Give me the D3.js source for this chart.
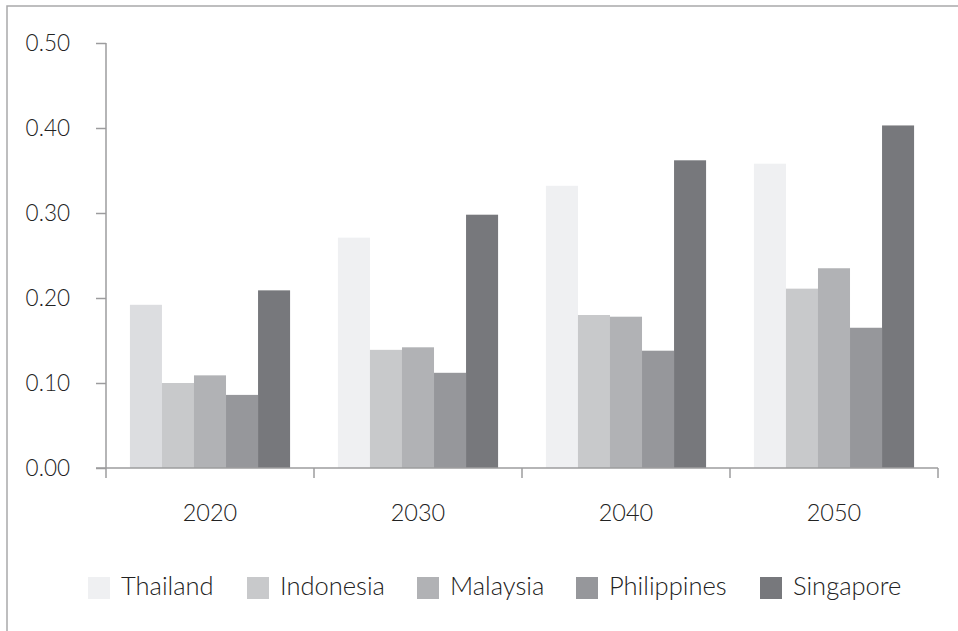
<!DOCTYPE html>
<html>
<head>
<meta charset="utf-8">
<script src="https://cdn.jsdelivr.net/npm/d3@7"></script>
<style>
  body { margin: 0; background: #fff; }
  text { font-family: Lato, "Open Sans", sans-serif; font-weight: 300; fill: #222; }
</style>
</head>
<body>
<script>
// chart data
var years = ["2020", "2030", "2040", "2050"];
var countries = ["Thailand", "Indonesia", "Malaysia", "Philippines", "Singapore"];
var thailand = [0.192, 0.271, 0.332, 0.358];
var indonesia = [0.100, 0.139, 0.180, 0.211];
var malaysia = [0.109, 0.142, 0.178, 0.235];
var philippines = [0.086, 0.112, 0.138, 0.165];
var singapore = [0.209, 0.298, 0.362, 0.403];
var yTicks = [0, 0.1, 0.2, 0.3, 0.4, 0.5];

var colours = ["#eff0f2", "#c8c9cb", "#b1b2b5", "#96979b", "#77787c"];

// svg variables
var width = 958;
var height = 631;
var left = 106;
var right = 938;
var top_ = 43;
var bottom = 468;

var series = [thailand, indonesia, malaysia, philippines, singapore];

var svg = d3.select("body")
  .append("svg")
  .attr("width", width)
  .attr("height", height);

// outer frame (top and left only)
svg.append("path")
  .attr("d", "M7,631V6H958")
  .attr("fill", "none")
  .attr("stroke", "#a9a9ab")
  .attr("stroke-width", 1.5);

// scales
var x0 = d3.scaleBand()
  .domain(years)
  .range([left, right])
  .paddingInner(0.23)
  .paddingOuter(0.115);

var x1 = d3.scaleBand()
  .domain(countries)
  .range([0, x0.bandwidth()]);

var yScale = d3.scaleLinear()
  .domain([0, 0.5])
  .range([bottom, top_]);

// bars
var groups = svg.selectAll(".year")
  .data(years)
  .enter()
  .append("g")
  .attr("class", "year")
  .attr("transform", function(d) { return "translate(" + x0(d) + ",0)"; });

groups.selectAll("rect")
  .data(function(d, i) {
    return countries.map(function(c, j) {
      return {country: c, value: series[j][i], year: d};
    });
  })
  .enter()
  .append("rect")
  .attr("x", function(d) { return x1(d.country); })
  .attr("width", x1.bandwidth())
  .attr("y", function(d) { return yScale(d.value); })
  .attr("height", function(d) { return bottom - yScale(d.value); })
  .attr("fill", function(d, j) {
    // the first Thailand bar is a little darker in the original
    if (d.year === "2020" && j === 0) return "#dcdde0";
    return colours[j];
  });

// y axis
svg.append("g")
  .attr("class", "yaxis")
  .attr("transform", "translate(" + left + ",0)")
  .call(d3.axisLeft(yScale)
    .tickValues(yTicks)
    .tickSize(10)
    .tickPadding(26)
    .tickFormat(d3.format(".2f")));

// x axis: labels only, ticks placed on band edges below
svg.append("g")
  .attr("class", "xaxis")
  .attr("transform", "translate(0," + bottom + ")")
  .call(d3.axisBottom(x0).tickSize(0).tickPadding(36));

svg.selectAll(".domain").remove();
svg.selectAll(".tick line").attr("stroke", "#9c9c9e").attr("stroke-width", 1.5);
svg.selectAll(".yaxis .tick text").style("font-size", "22.5px").attr("fill", "#222");
svg.selectAll(".xaxis .tick text").style("font-size", "23.5px").attr("fill", "#222");

// axis lines
svg.append("line")
  .attr("x1", left).attr("x2", left)
  .attr("y1", yScale(0.5)).attr("y2", bottom + 10)
  .attr("stroke", "#9c9c9e").attr("stroke-width", 1.5);
svg.append("line")
  .attr("x1", left - 10).attr("x2", right)
  .attr("y1", bottom).attr("y2", bottom)
  .attr("stroke", "#9c9c9e").attr("stroke-width", 1.5);

// tick marks between year groups
var step = x0.step();
var edges = years.map(function(d) { return x0(d) - x0.paddingInner() * step / 2; });
edges.push(right);
svg.selectAll(".edge")
  .data(edges.slice(1))
  .enter()
  .append("line")
  .attr("class", "edge")
  .attr("x1", function(d) { return d; })
  .attr("x2", function(d) { return d; })
  .attr("y1", bottom)
  .attr("y2", bottom + 10)
  .attr("stroke", "#9c9c9e")
  .attr("stroke-width", 1.5);

// legend
var legendX = [88, 247, 417, 576, 760];
var legend = svg.selectAll(".legend")
  .data(countries)
  .enter()
  .append("g")
  .attr("class", "legend")
  .attr("transform", function(d, i) { return "translate(" + legendX[i] + ",577)"; });

legend.append("rect")
  .attr("width", 22)
  .attr("height", 22)
  .attr("fill", function(d, i) { return colours[i]; });

legend.append("text")
  .attr("x", 33)
  .attr("y", 18)
  .style("font-size", "25.5px")
  .text(function(d) { return d; });
</script>
</body>
</html>
